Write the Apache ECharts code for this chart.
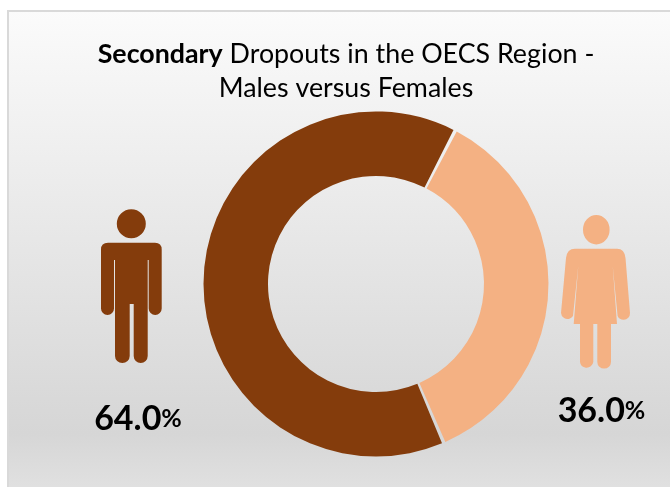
<!DOCTYPE html>
<html>
<head>
<meta charset="utf-8">
<style>
  html, body { margin: 0; padding: 0; background: #fff; }
  #chart { width: 670px; height: 487px; }
</style>
<script src="https://cdn.jsdelivr.net/npm/echarts@6/dist/echarts.min.js"></script>
</head>
<body>
<div id="chart"></div>
<script>
const categories = ['Females', 'Males']
const dropouts = [36.0, 64.0]
const colors = ['#f4b183', '#843c0c']

const font = 'Lato'
const chart = echarts.init(document.getElementById('chart'), null, { renderer: 'canvas' })

// pictogram outlines, px
const MALE_ICON = 'M116.8 223.7A14.5 14.5 0 1 1 145.8 223.7A14.5 14.5 0 1 1 116.8 223.7Z' +
  'M108 242.7H155Q161.7 242.7 161.7 249.5V308.5A6.5 6.5 0 0 1 148.7 308.5V260H147.7V356A7 7 0 0 1 133.7 356V304H129.7V356A7.3 7 0 0 1 115 356V260H114V308.5A6.5 6.5 0 0 1 101 308.5V249.5Q101 242.7 108 242.7Z'
const FEMALE_ICON = 'M583 229.7A13.3 14.7 0 1 1 609.6 229.7A13.3 14.7 0 1 1 583 229.7Z' +
  'M575 248.7H617Q624.5 248.7 625.5 258L630 313A6.5 6.5 0 0 1 617.6 316L612.7 265.7L617 324H611V362A6.8 6.5 0 0 1 597.3 362V324H593.3V362A6.7 6.5 0 0 1 580 362V324H573.7L578.3 265.7L573 316A6.5 6.5 0 0 1 561 313L566 258Q567 248.7 575 248.7Z'

echarts.graphic.registerShape('maleIcon', echarts.graphic.extendPath(MALE_ICON, {}))
echarts.graphic.registerShape('femaleIcon', echarts.graphic.extendPath(FEMALE_ICON, {}))

function pctLabel(i, x, y) {
  return {
    text: '{n|' + dropouts[i].toFixed(1) + '}{p|%}',
    left: x,
    top: y,
    textAlign: 'center',
    textStyle: {
      rich: {
        n: { fontFamily: font, fontSize: 34, fontWeight: 'bold', color: '#000' },
        p: { fontFamily: font, fontSize: 25, fontWeight: 'bold', color: '#000' }
      }
    }
  }
}

const option = {
  animation: false,
  backgroundColor: '#fff',
  title: [
    {
      text: '{b|Secondary}{r| Dropouts in the OECS Region -}\n{r|Males versus Females}',
      left: 341,
      top: 32,
      textAlign: 'center',
      textStyle: {
        rich: {
          b: { fontFamily: font, fontSize: 26.8, fontWeight: 'bold', color: '#000', lineHeight: 34 },
          r: { fontFamily: font, fontSize: 26.8, fontWeight: 'normal', color: '#000', lineHeight: 34 }
        }
      }
    },
    pctLabel(1, 133, 397),
    pctLabel(0, 596.5, 389)
  ],
  graphic: [
    {
      type: 'rect',
      z: -10,
      shape: { x: 8, y: 11, width: 670, height: 485 },
      style: {
        fill: new echarts.graphic.LinearGradient(0, 0, 0, 1, [
          { offset: 0, color: '#fbfbfb' },
          { offset: 0.87, color: '#d6d6d6' },
          { offset: 1, color: '#e2e2e2' }
        ]),
        stroke: '#d9d9d9',
        lineWidth: 2
      }
    },
    { type: 'maleIcon', z: 1, style: { fill: colors[1] } },
    { type: 'femaleIcon', z: 1, style: { fill: colors[0] } }
  ],
  series: [
    {
      type: 'pie',
      center: [376, 284],
      radius: [108, 172.5],
      startAngle: 62.7,
      padAngle: 1.2,
      silent: true,
      label: { show: false },
      labelLine: { show: false },
      data: categories.map((name, i) => ({
        name,
        value: dropouts[i],
        itemStyle: { color: colors[i] }
      }))
    }
  ]
}

chart.setOption(option)
</script>
</body>
</html>
